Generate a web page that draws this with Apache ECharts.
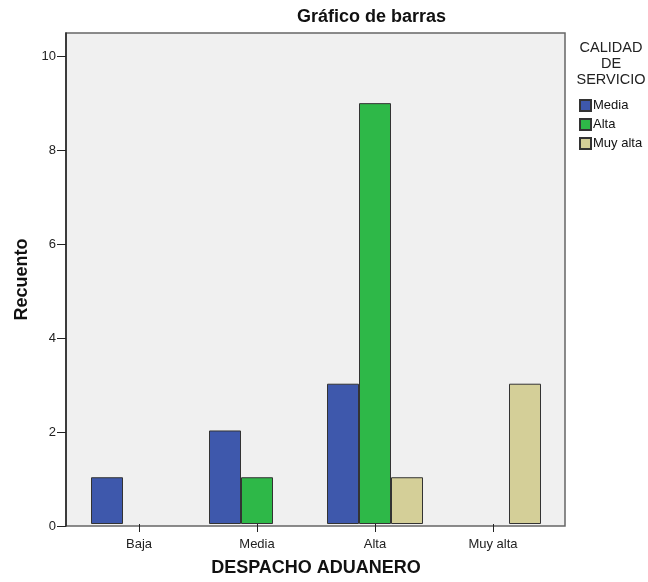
<!DOCTYPE html>
<html><head><meta charset="utf-8">
<script src="https://cdn.jsdelivr.net/npm/echarts@6/dist/echarts.min.js"></script>
<style>html,body{margin:0;padding:0;background:#fff}#c{width:648px;height:582px}</style>
</head><body><div id="c"></div>
<script>
const categories = ['Baja', 'Media', 'Alta', 'Muy alta'];
const seriesNames = ['Media', 'Alta', 'Muy alta'];
const mediaVals = [1, 2, 3, null];
const altaVals = [null, 1, 9, null];
const muyAltaVals = [null, null, 1, 3];
const yTicks = [0, 2, 4, 6, 8, 10];
const colors = ['#3e58ac', '#2eb848', '#d4cf98'];
const FONT = 'Liberation Sans, Arial, sans-serif';

const chart = echarts.init(document.getElementById('c'));
const values = [mediaVals, altaVals, muyAltaVals];
chart.setOption({
  animation: false,
  textStyle: { fontFamily: FONT },
  title: [
    { text: 'Gráfico de barras', left: 292, top: 3,
      textStyle: { fontFamily: FONT, fontSize: 18, fontWeight: 'bold', color: '#111' } }
  ],
  graphic: [
    { type: 'text', x: 611, y: 40, z: 10,
      style: { text: 'CALIDAD\nDE\nSERVICIO', fill: '#222', font: '14.5px Liberation Sans, Arial, sans-serif',
        align: 'center', verticalAlign: 'top', lineHeight: 16 } }
  ],
  legend: {
    orient: 'vertical', left: 574, top: 94, itemWidth: 11, itemHeight: 11, itemGap: 6,
    icon: 'rect', data: seriesNames,
    textStyle: { fontFamily: FONT, fontSize: 13, color: '#111', padding: [0, 0, 0, -3] }
  },
  grid: [
    { left: 66, right: 83, top: 33, bottom: 56, show: true, backgroundColor: '#f0f0f0', borderColor: '#666', borderWidth: 1.5 },
    { left: 80, right: 96, top: 33, bottom: 56 }
  ],
  xAxis: [
    { gridIndex: 0, type: 'value', min: 0, max: 1, show: false },
    { gridIndex: 1, type: 'category', data: categories,
      axisLine: { show: false },
      axisTick: { show: true, alignWithLabel: true, length: 8, lineStyle: { color: '#222' } },
      axisLabel: { fontFamily: FONT, fontSize: 13, color: '#222', margin: 14 },
      name: 'DESPACHO ADUANERO', nameLocation: 'middle', nameGap: 35,
      nameTextStyle: { fontFamily: FONT, fontSize: 18, fontWeight: 'bold', color: '#111' } }
  ],
  yAxis: [
    { gridIndex: 0, type: 'value', min: 0, max: 10.5,
      axisLine: { show: true, lineStyle: { color: '#222', width: 1.5 } },
      axisTick: { show: true, length: 9, lineStyle: { color: '#222' }, customValues: yTicks },
      axisLabel: { fontFamily: FONT, fontSize: 13, color: '#222', margin: 10,
        customValues: yTicks },
      splitLine: { show: false },
      name: 'Recuento', nameLocation: 'middle', nameGap: 35,
      nameTextStyle: { fontFamily: FONT, fontSize: 18, fontWeight: 'bold', color: '#111' } },
    { gridIndex: 1, type: 'value', min: 0, max: 10.5, show: false }
  ],
  series: seriesNames.map((n, i) => ({
    name: n, type: 'bar', xAxisIndex: 1, yAxisIndex: 1,
    data: values[i], barWidth: 32, barGap: '0%',
    itemStyle: { color: colors[i], borderColor: '#333', borderWidth: 1 }
  }))
});
</script></body></html>
